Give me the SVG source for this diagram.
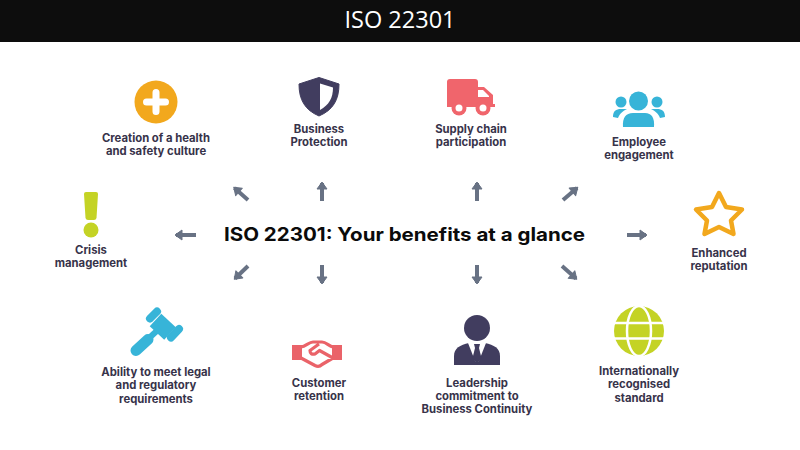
<svg xmlns="http://www.w3.org/2000/svg" width="800" height="450" viewBox="0 0 800 450">
<style>
.lb{font-family:"Inter","Liberation Sans",sans-serif;font-weight:700;font-size:11.300px;fill:#37334a;text-anchor:middle}
.ar{stroke:#687284;stroke-width:4;fill:none;marker-end:url(#ah)}
</style>
<defs>
<marker id="ah" markerUnits="userSpaceOnUse" markerWidth="14" markerHeight="14" refX="7" refY="6.500" orient="auto"><path d="M1 1.500L8 6.500L1 11.500Z" fill="#687284" stroke="#687284" stroke-linejoin="round"/></marker>
</defs>
<rect width="800" height="450" fill="#fff"/>
<g id="header"><rect width="800" height="42" fill="#0d0d0d"/><text x="400" y="28" font-family="'Open Sans','Liberation Sans',sans-serif" font-size="23.500" fill="#fff" text-anchor="middle">ISO 22301</text></g>
<g id="connectors">
<path class="ar" d="M248 200L234.500 188"/><path class="ar" d="M322 201V183"/><path class="ar" d="M477 201V183"/><path class="ar" d="M563 200L577 188"/>
<path class="ar" d="M196 235H176"/><path class="ar" d="M627 235H646"/>
<path class="ar" d="M248 266L235 278.500"/><path class="ar" d="M322 265V283"/><path class="ar" d="M477 265V283"/><path class="ar" d="M562 266L576 278.500"/>
</g>
<g id="center"><text x="404.500" y="240.500" font-family="'Inter','Liberation Sans',sans-serif" font-weight="700" font-size="18.500" fill="#0b0b0b" text-anchor="middle" textLength="361" lengthAdjust="spacingAndGlyphs">ISO 22301: Your benefits at a glance</text></g>
<g id="health"><circle cx="156" cy="102" r="21.500" fill="#f2a81d"/><path d="M146.500 102H165.500M156 92.500V111.500" stroke="#fff" stroke-width="7" stroke-linecap="round"/><text class="lb" x="156" y="142">Creation of a health</text><text class="lb" x="156" y="155">and safety culture</text></g>
<g id="protection"><path d="M319 77.500L339 84C339 100 333 110 319 116C305 110 299 100 299 84Z" fill="#413d5f" stroke="#413d5f" stroke-linejoin="round"/><path d="M320 83.500L333 87.500C333 98 329 105 320 110Z" fill="#fff"/><text class="lb" x="319" y="133">Business</text><text class="lb" x="319" y="146">Protection</text></g>
<g id="supply"><path d="M450 79H475Q478 79 478 82V87H484L493 95V104H495V107H447V82Q447 79 450 79Z" fill="#f0656c"/><path d="M478 90H483L489 96V97H478Z" fill="#fff"/><circle cx="459" cy="108" r="7.500" fill="#f0656c"/><circle cx="459" cy="108" r="3.500" fill="#fff"/><circle cx="483" cy="108" r="7.500" fill="#f0656c"/><circle cx="483" cy="108" r="3.500" fill="#fff"/><text class="lb" x="471" y="133">Supply chain</text><text class="lb" x="471" y="146">participation</text></g>
<g id="employee" fill="#37b4d8"><circle cx="638.500" cy="101" r="9.500"/><path d="M623 127Q622 113 633 113H645Q655 113 654 127Z"/><circle cx="621" cy="102" r="5.500"/><circle cx="657" cy="102" r="5.500"/><path d="M613 117C613 111 616 109 621 109H627C623 111 620 113 618 118Z"/><path d="M665 117C665 111 662 109 657 109H651C655 111 658 113 660 118Z"/><text class="lb" x="639" y="146">Employee</text><text class="lb" x="639" y="159">engagement</text></g>
<g id="reputation"><path d="M719 193L726 207L742 209.500L731 220.500L733.500 234L719 227L704.500 234L707 220.500L696 209.500L712 207Z" fill="none" stroke="#f2a81d" stroke-width="4.500" stroke-linejoin="round"/><text class="lb" x="719" y="257">Enhanced</text><text class="lb" x="719" y="270">reputation</text></g>
<g id="crisis"><path d="M86 192H96Q98 192 98 194L96.500 218Q96 220 94 220H88Q86 220 85.500 218L84 194Q84 192 86 192Z" fill="#c4d325"/><circle cx="91" cy="230" r="7.500" fill="#c4d325"/><text class="lb" x="91" y="254">Crisis</text><text class="lb" x="91" y="267">management</text></g>
<g id="legal"><g fill="none" stroke="#37b4d8" stroke-linecap="round"><path d="M150 318.500L157 311.500" stroke-width="8"/><path d="M171 337.500L179 329" stroke-width="8"/><path d="M155.500 320L170 333.500" stroke-width="17" stroke-linecap="butt"/><path d="M148 339L160 328" stroke-width="6" stroke-linecap="butt"/><path d="M136 350.500L148 339.500" stroke-width="11"/></g><text class="lb" x="156" y="376">Ability to meet legal</text><text class="lb" x="156" y="389">and regulatory</text><text class="lb" x="156" y="403">requirements</text></g>
<g id="retention"><path d="M292 345H302V360H292ZM332 345H342V360H332Z" fill="#ea6369"/><path d="M301 347C306 346 309 342 313 342H322C326 342 329 346 333 347M301 358L315 365.500Q319 367.500 322 364.500L333 358M319 344L310 350.500Q310 355 315 354L319.500 350.500L333 358" fill="none" stroke="#ea6369" stroke-width="3.200" stroke-linejoin="round"/><text class="lb" x="319" y="387">Customer</text><text class="lb" x="319" y="400">retention</text></g>
<g id="leadership"><circle cx="477" cy="328" r="13" fill="#413d5f"/><path d="M454 365V356C454 348 460 345 469 343H485C494 345 500 348 500 356V365Z" fill="#413d5f"/><path d="M468 343H486L478.500 362H475.500Z" fill="#fff"/><path d="M474 344H480L479 348L481.500 358L477 364L472.500 358L475 348Z" fill="#413d5f"/><text class="lb" x="477" y="387">Leadership</text><text class="lb" x="477" y="400">commitment to</text><text class="lb" x="477" y="413">Business Continuity</text></g>
<g id="international"><circle cx="639" cy="331" r="25" fill="#c4d325"/><ellipse cx="639" cy="331" rx="12" ry="25" fill="none" stroke="#fff" stroke-width="2.500"/><path d="M612 323H666M612 338.500H666" stroke="#fff" stroke-width="2.500"/><text class="lb" x="639" y="375">Internationally</text><text class="lb" x="639" y="388">recognised</text><text class="lb" x="639" y="402">standard</text></g>
</svg>
